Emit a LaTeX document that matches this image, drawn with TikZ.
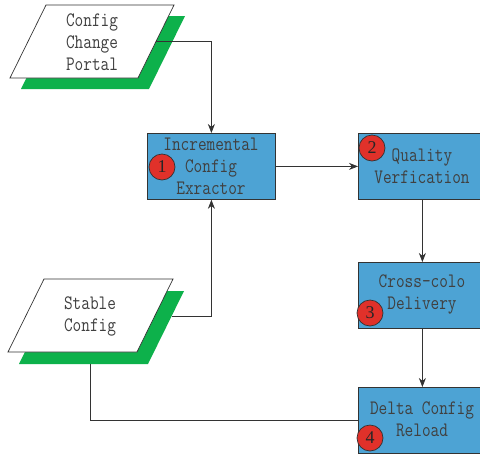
\documentclass[tikz,border=0pt]{standalone}
\usepackage{fontspec}
\setmainfont{Liberation Serif}
\newfontfamily\monof[FakeStretch=0.82]{Latin Modern Mono}
\usetikzlibrary{arrows.meta}
\definecolor{boxblue}{HTML}{4DA3D4}
\definecolor{shgreen}{HTML}{0DB14B}
\definecolor{cred}{HTML}{E0312A}
\begin{document}
\begin{tikzpicture}[x=1pt,y=-1pt,
 lbl/.style={font=\monof\fontsize{20.5}{22}\selectfont, align=center, text=black!75, inner sep=0},
 procbox/.style={draw=black!80, fill=boxblue, line width=0.8pt, minimum width=128pt, minimum height=66pt, anchor=north west, inner sep=0},
 badge/.style={circle, draw=black!80, fill=cred, minimum size=26pt, inner sep=0, line width=0.7pt, font=\fontsize{18}{18}\selectfont, text=black!85},
 conn/.style={draw=black!80, line width=0.7pt},
 arr/.style={conn, -{Stealth[length=9pt,width=7pt]}},
 para/.style={draw=black!80, fill=white, line width=0.7pt},
 shadow/.style={fill=shgreen}]
\useasboundingbox (0,0) rectangle (480,456);
\fill[white] (0,0) rectangle (480,456);

% input shapes
\fill[shadow] (57,16) -- (185,16) -- (149,89) -- (21,89) -- cycle;
\draw[para] (46,5) -- (174,5) -- (138,78) -- (10,78) -- cycle;
\node[lbl] (ccp) at (92,42) {Config\\Change\\Portal};

\fill[shadow] (55,291) -- (184,291) -- (148,364) -- (19,364) -- cycle;
\draw[para] (44,279) -- (173,279) -- (137,352) -- (8,352) -- cycle;
\node[lbl] (stc) at (90,316) {Stable\\Config};

\coordinate (ccpout) at (156,41);
\coordinate (stout) at (172,316);
\coordinate (stbot) at (90,364);

% process boxes
\node[procbox] (inc) at (147,133) {};
\node[procbox] (qv) at (358,133) {};
\node[procbox] (cc) at (358,262) {};
\node[procbox] (dc) at (358,387) {};

\node[lbl] (inct) at (211,166) {Incremental\\Config\\Exractor};
\node[lbl] (qvt) at (422,166) {Quality\\Verfication};
\node[lbl] (cct) at (422,294) {Cross-colo\\Delivery};
\node[lbl] (dct) at (422,419.5) {Delta Config\\Reload};

\node[badge] (b1) at (162,167) {1};
\node[badge] (b2) at (372,148) {2};
\node[badge] (b3) at (370,313) {3};
\node[badge] (b4) at (370,438) {4};

% connectors
\draw[arr] (ccpout) -| (inc.north);
\draw[arr] (stout) -| (inc.south);
\draw[arr] (inc.east) -- (qv.west);
\draw[arr] (qv.south) -- (cc.north);
\draw[arr] (cc.south) -- (dc.north);
\draw[conn] (stbot) |- (dc.west);
\end{tikzpicture}
\end{document}
